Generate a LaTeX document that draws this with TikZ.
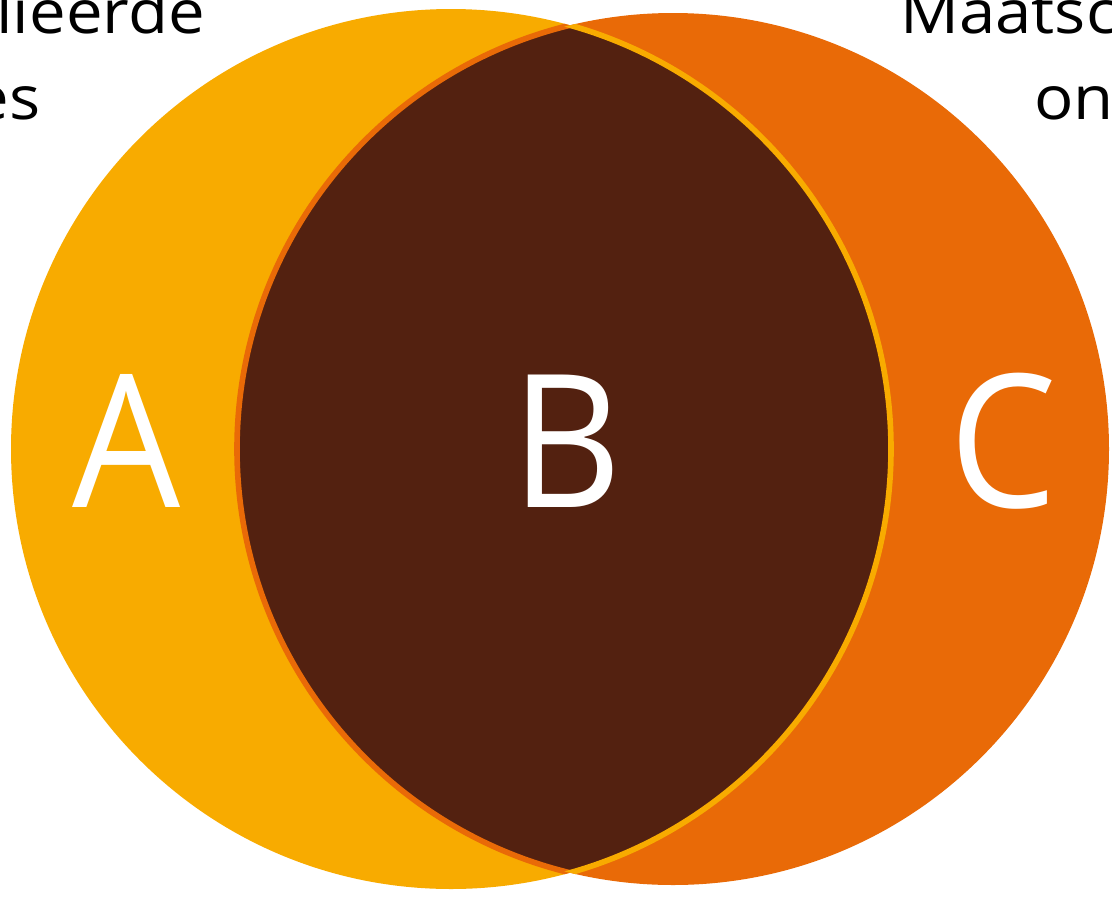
\documentclass[tikz,border=0pt]{standalone}
\usepackage{fontspec}
\setmainfont{Open Sans}
\definecolor{cyel}{HTML}{F8AB00}
\definecolor{cora}{HTML}{E96A07}
\definecolor{cbrn}{HTML}{532110}
\newcommand{\widetxt}[1]{\scalebox{1.08}[1]{#1}}
\begin{document}
\begin{tikzpicture}[x=0.025cm,y=-0.025cm,
  toplabel/.style={inner sep=0pt,font=\fontsize{43}{48}\selectfont,text=black},
  biglabel/.style={inner sep=0pt,font=\fontsize{132}{140}\selectfont,text=white}]
\useasboundingbox (0,0) rectangle (1112,896);
\clip (0,0) rectangle (1112,896);
\coordinate (cl) at (451,449);
\coordinate (cr) at (673,449);
\fill[cyel] (cl) circle (440);
\fill[cora] (cr) circle (436);
\begin{scope}
  \clip (cl) circle (440);
  \fill[cbrn] (cr) circle (436);
  \draw[cora,line width=4pt] (cr) circle (436);
\end{scope}
\begin{scope}
  \clip (cr) circle (436);
  \draw[cyel,line width=4pt] (cl) circle (440);
\end{scope}
\node[toplabel,anchor=base east] (t1a) at (205,33) {\widetxt{lieerde}};
\node[toplabel,anchor=base east] (t1b) at (41,119) {\widetxt{es}};
\node[toplabel,anchor=base west] (t2a) at (900,33) {\widetxt{Maatsc}};
\node[toplabel,anchor=base west] (t2b) at (1034,119) {\widetxt{on}};
\node[biglabel,anchor=base] (A) at (127,507) {\scalebox{0.92}[1]{A}};
\node[biglabel,anchor=base] (B) at (567,507) {\scalebox{0.92}[1]{B}};
\node[biglabel,anchor=base] (C) at (1003,507) {\scalebox{0.92}[1]{C}};
\end{tikzpicture}
\end{document}
